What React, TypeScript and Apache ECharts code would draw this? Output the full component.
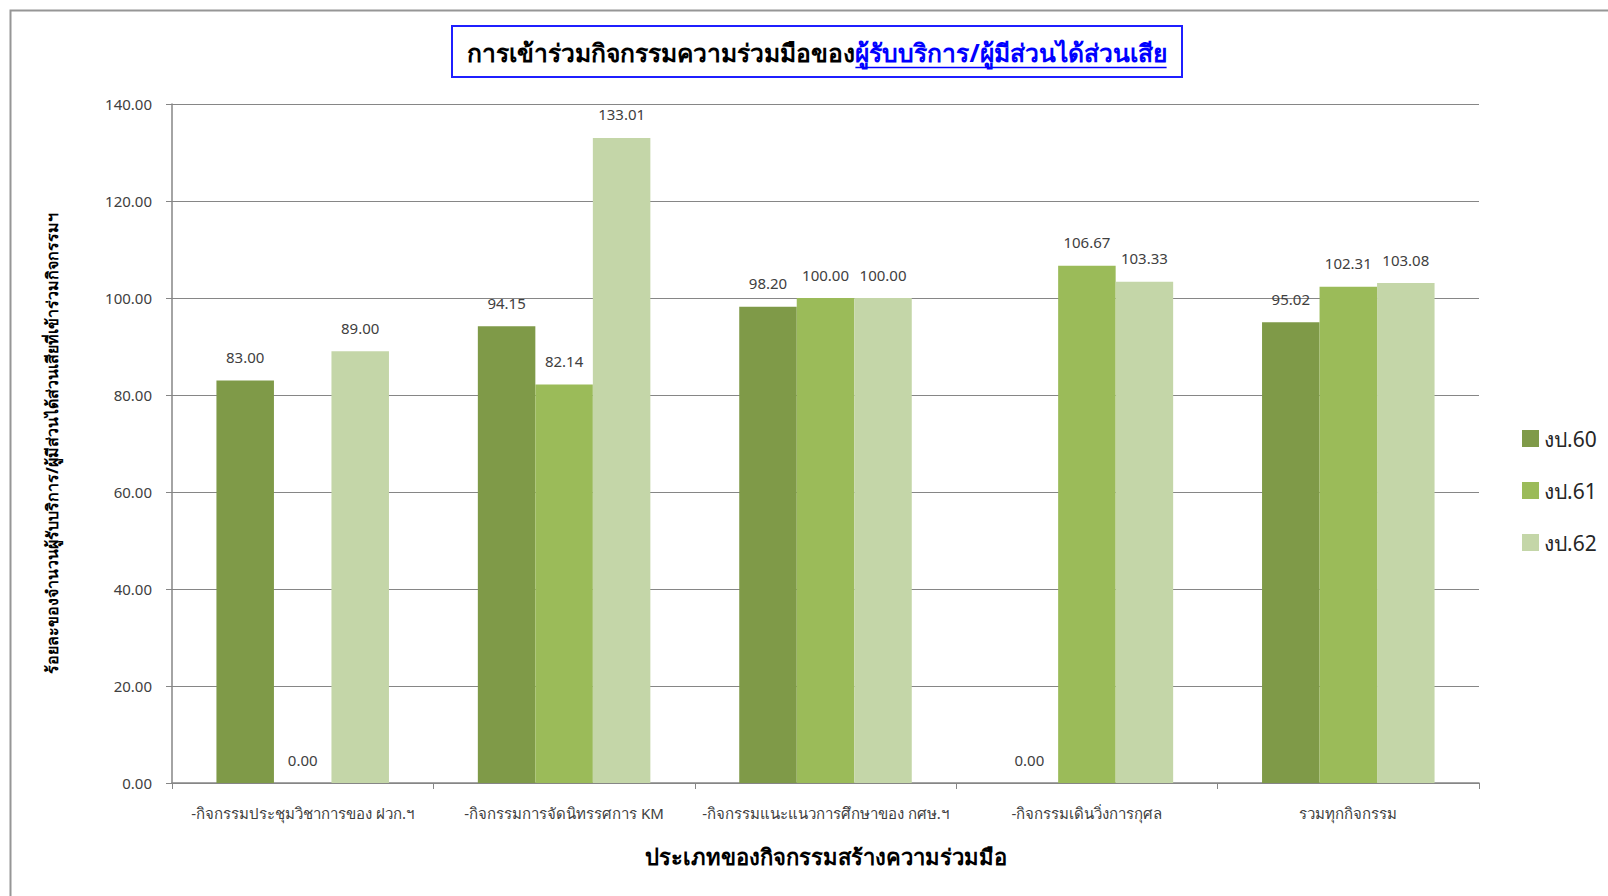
import React, { useEffect, useRef } from "react";
import * as echarts from "echarts";

const categories = [
  "-กิจกรรมประชุมวิชาการของ ฝวก.ฯ",
  "-กิจกรรมการจัดนิทรรศการ KM",
  "-กิจกรรมแนะแนวการศึกษาของ กศษ.ฯ",
  "-กิจกรรมเดินวิ่งการกุศล",
  "รวมทุกกิจกรรม",
];
const seriesNames = ["งป.60", "งป.61", "งป.62"];
const values60 = [83.0, 94.15, 98.2, 0.0, 95.02];
const values61 = [0.0, 82.14, 100.0, 106.67, 102.31];
const values62 = [89.0, 133.01, 100.0, 103.33, 103.08];
const titleBlack = "การเข้าร่วมกิจกรรมความร่วมมือของ";
const titleBlue = "ผู้รับบริการ/ผู้มีส่วนได้ส่วนเสีย";
const yAxisName = "ร้อยละของจำนวนผู้รับบริการ/ผู้มีส่วนได้ส่วนเสียที่เข้าร่วมกิจกรรมฯ";
const xAxisName = "ประเภทของกิจกรรมสร้างความร่วมมือ";

const FONT = "'Noto Sans', 'DejaVu Sans', sans-serif";
const colors = ["#7F9A48", "#9BBB59", "#C4D6A8"];

export default function App() {
  const ref = useRef<HTMLDivElement>(null);
  useEffect(() => {
    if (!ref.current) return;
    const chart = echarts.init(ref.current, undefined, { renderer: "svg" });

    const canvas = document.createElement("canvas");
    const ctx = canvas.getContext("2d")!;
    const measure = (t: string, size: number) => {
      ctx.font = `bold ${size}px ${FONT}`;
      return ctx.measureText(t).width;
    };
    const targetW = 708;
    let fs = 26;
    const w0 = measure(titleBlack + titleBlue, fs);
    if (w0 > 0) fs = Math.max(18, Math.min(34, (fs * targetW) / w0));
    const wBlack = measure(titleBlack, fs);
    const wBlue = measure(titleBlue, fs);
    const total = wBlack + wBlue;
    const cx = 817;
    const x0 = cx - total / 2;
    const ty = 52;

    const mkSeries = (name: string, data: number[], color: string) => ({
      name,
      type: "bar",
      data,
      barGap: "0%",
      barCategoryGap: "34%",
      itemStyle: { color },
      label: {
        show: true,
        position: "top",
        distance: 16,
        formatter: (p: any) => Number(p.value).toFixed(2),
        fontSize: 15,
        color: "#404040",
        fontFamily: FONT,
      },
    });

    chart.setOption({
      animation: false,
      backgroundColor: "#ffffff",
      grid: { left: 172, right: 129, top: 104, bottom: 113, containLabel: false },
      legend: {
        orient: "vertical",
        left: 1517,
        top: 423,
        itemWidth: 17,
        itemHeight: 17,
        itemGap: 31,
        icon: "rect",
        data: seriesNames,
        textStyle: { fontSize: 21, color: "#262626", fontFamily: FONT, padding: [0, 0, 0, 0] },
      },
      xAxis: {
        type: "category",
        data: categories,
        boundaryGap: true,
        name: xAxisName,
        nameLocation: "middle",
        nameGap: 62,
        nameTextStyle: { fontSize: 22, fontWeight: "bold", color: "#000", fontFamily: FONT },
        axisLine: { lineStyle: { color: "#868686", width: 1.5 } },
        axisTick: { show: true, length: 6, lineStyle: { color: "#868686" } },
        axisLabel: { fontSize: 15, color: "#404040", margin: 22, interval: 0, fontFamily: FONT },
      },
      yAxis: {
        type: "value",
        min: 0,
        max: 140,
        interval: 20,
        name: yAxisName,
        nameLocation: "middle",
        nameGap: 112,
        nameRotate: 90,
        nameTextStyle: { fontSize: 16, fontWeight: "bold", color: "#000", fontFamily: FONT },
        axisLine: { show: true, lineStyle: { color: "#868686", width: 1.5 } },
        axisTick: { show: true, length: 6, inside: false, lineStyle: { color: "#868686" } },
        axisLabel: {
          fontSize: 15,
          color: "#404040",
          margin: 20,
          fontFamily: FONT,
          formatter: (v: number) => v.toFixed(2),
        },
        splitLine: { show: true, lineStyle: { color: "#868686", width: 1.2 } },
      },
      series: [
        mkSeries(seriesNames[0], values60, colors[0]),
        mkSeries(seriesNames[1], values61, colors[1]),
        mkSeries(seriesNames[2], values62, colors[2]),
      ],
      graphic: [
        {
          type: "rect",
          shape: { x: 10.5, y: 10.5, width: 1700, height: 1000 },
          style: { fill: "none", stroke: "#969696", lineWidth: 2 },
          silent: true,
        },
        {
          type: "rect",
          shape: { x: 452, y: 26, width: 730, height: 51 },
          style: { fill: "#ffffff", stroke: "#1f1fff", lineWidth: 2 },
          silent: true,
        },
        {
          type: "text",
          x: x0,
          y: ty,
          style: {
            text: titleBlack,
            fontSize: fs,
            fontWeight: "bold",
            fontFamily: FONT,
            fill: "#000000",
            align: "left",
            verticalAlign: "middle",
          },
        },
        {
          type: "text",
          x: x0 + wBlack,
          y: ty,
          style: {
            text: titleBlue,
            fontSize: fs,
            fontWeight: "bold",
            fontFamily: FONT,
            fill: "#0000ff",
            align: "left",
            verticalAlign: "middle",
          },
        },
        {
          type: "line",
          shape: { x1: x0 + wBlack, y1: 67.5, x2: x0 + total, y2: 67.5 },
          style: { stroke: "#0000ff", lineWidth: 1.5 },
        },
      ],
    });
    return () => chart.dispose();
  }, []);
  return (
    <div
      ref={ref}
      style={{ position: "fixed", left: 0, top: 0, width: 1608, height: 896 }}
    />
  );
}
